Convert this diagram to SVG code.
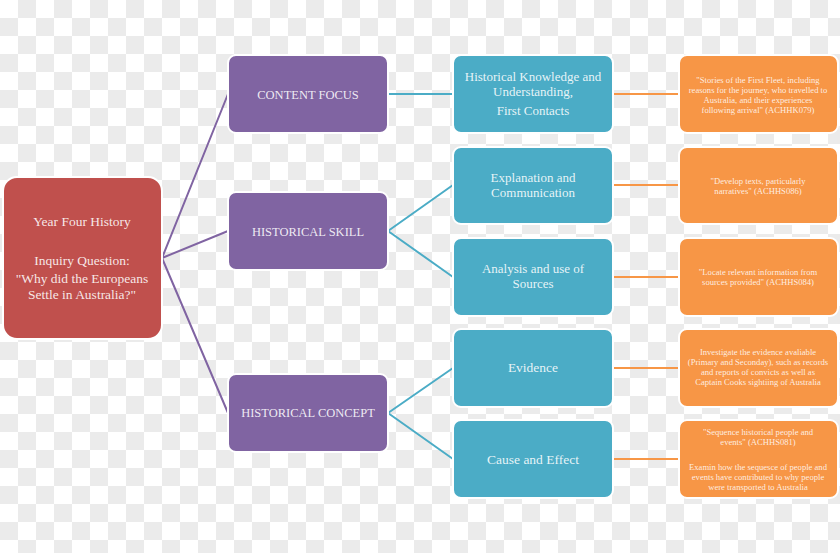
<svg xmlns="http://www.w3.org/2000/svg" width="840" height="553" viewBox="0 0 840 553">
<style>
.n{stroke:#ffffff;stroke-width:2}
.red{fill:#c0504d}
.pur{fill:#8064a2}
.teal{fill:#4bacc6}
.org{fill:#f79646}
text{font-family:"Liberation Serif","DejaVu Serif",serif;text-anchor:middle}
.t{fill:#ffffff;fill-opacity:0.88;font-size:13.5px}
.t2{fill:#ffffff;fill-opacity:0.88;font-size:13px}
.tp{fill:#ffffff;fill-opacity:0.88;font-size:12.5px}
.to{fill:#ffffff;fill-opacity:0.85;font-size:8.6px}
.cp{stroke:#8064a2;stroke-width:2;fill:none}
.ct{stroke:#4bacc6;stroke-width:2;fill:none}
.co{stroke:#f79646;stroke-width:2;fill:none}
</style>
<defs>
<pattern id="chk" width="36" height="36" patternUnits="userSpaceOnUse">
<rect width="36" height="36" fill="#ffffff"/>
<rect x="18" y="0" width="18" height="18" fill="#ebebeb"/>
<rect x="0" y="18" width="18" height="18" fill="#ebebeb"/>
</pattern>
</defs>
<rect width="840" height="553" fill="url(#chk)"/>
<g id="connectors">
<path class="cp" d="M162 258 L228 94 M162 258 L228 231 M162 258 L228 413"/>
<path class="ct" d="M388 94 L453 94 M388 231 L453 185 M388 231 L453 277 M388 413 L453 368 M388 413 L453 459"/>
<path class="co" d="M613 94 L679 94 M613 185 L679 185 M613 277 L679 277 M613 368 L679 368 M613 459 L679 459"/>
</g>
<g id="root">
<rect class="n red" x="3" y="177" width="159" height="162" rx="14"/>
<text class="t" x="82" y="226">Year Four History</text>
<text class="t" x="82" y="265">Inquiry Question:</text>
<text class="t" x="82" y="283">"Why did the Europeans</text>
<text class="t" x="82" y="299">Settle in Australia?"</text>
</g>
<g id="content-focus">
<rect class="n pur" x="228" y="55" width="160" height="78" rx="8"/>
<text class="tp" x="308" y="99">CONTENT FOCUS</text>
</g>
<g id="historical-skill">
<rect class="n pur" x="228" y="192" width="160" height="78" rx="8"/>
<text class="tp" x="308" y="236">HISTORICAL SKILL</text>
</g>
<g id="historical-concept">
<rect class="n pur" x="228" y="374" width="160" height="78" rx="8"/>
<text class="tp" x="308" y="417">HISTORICAL CONCEPT</text>
</g>
<g id="knowledge">
<rect class="n teal" x="453" y="55" width="160" height="78" rx="8"/>
<text class="t2" x="533" y="81">Historical Knowledge and</text>
<text class="t2" x="533" y="96">Understanding,</text>
<text class="t2" x="533" y="115">First Contacts</text>
</g>
<g id="explanation">
<rect class="n teal" x="453" y="147" width="160" height="77" rx="8"/>
<text class="t2" x="533" y="182">Explanation and</text>
<text class="t2" x="533" y="197">Communication</text>
</g>
<g id="analysis">
<rect class="n teal" x="453" y="238" width="160" height="78" rx="8"/>
<text class="t2" x="533" y="273">Analysis and use of</text>
<text class="t2" x="533" y="288">Sources</text>
</g>
<g id="evidence">
<rect class="n teal" x="453" y="329" width="160" height="78" rx="8"/>
<text class="t" x="533" y="372">Evidence</text>
</g>
<g id="cause-effect">
<rect class="n teal" x="453" y="420" width="160" height="78" rx="8"/>
<text class="t" x="533" y="464">Cause and Effect</text>
</g>
<g id="o1">
<rect class="n org" x="679" y="55" width="159" height="78" rx="8"/>
<text class="to" x="758" y="83">"Stories of the First Fleet, including</text>
<text class="to" x="758" y="93">reasons for the journey, who travelled to</text>
<text class="to" x="758" y="103">Australia, and their experiences</text>
<text class="to" x="758" y="113">following arrival" (ACHHK079)</text>
</g>
<g id="o2">
<rect class="n org" x="679" y="147" width="159" height="77" rx="8"/>
<text class="to" x="758" y="184">"Develop texts, particularly</text>
<text class="to" x="758" y="194">narratives" (ACHHS086)</text>
</g>
<g id="o3">
<rect class="n org" x="679" y="238" width="159" height="78" rx="8"/>
<text class="to" x="758" y="275">"Locate relevant information from</text>
<text class="to" x="758" y="285">sources provided" (ACHHS084)</text>
</g>
<g id="o4">
<rect class="n org" x="679" y="329" width="159" height="78" rx="8"/>
<text class="to" x="758" y="355">Investigate the evidence avaliable</text>
<text class="to" x="758" y="365">(Primary and Seconday), such as records</text>
<text class="to" x="758" y="375">and reports of convicts as well as</text>
<text class="to" x="758" y="385">Captain Cooks sightiing of Australia</text>
</g>
<g id="o5">
<rect class="n org" x="679" y="420" width="159" height="78" rx="8"/>
<text class="to" x="758" y="435">"Sequence historical people and</text>
<text class="to" x="758" y="445">events" (ACHHS081)</text>
<text class="to" x="758" y="470">Examin how the sequesce of people and</text>
<text class="to" x="758" y="480">events have contributed to why people</text>
<text class="to" x="758" y="490">were transported to Australia</text>
</g>
</svg>
